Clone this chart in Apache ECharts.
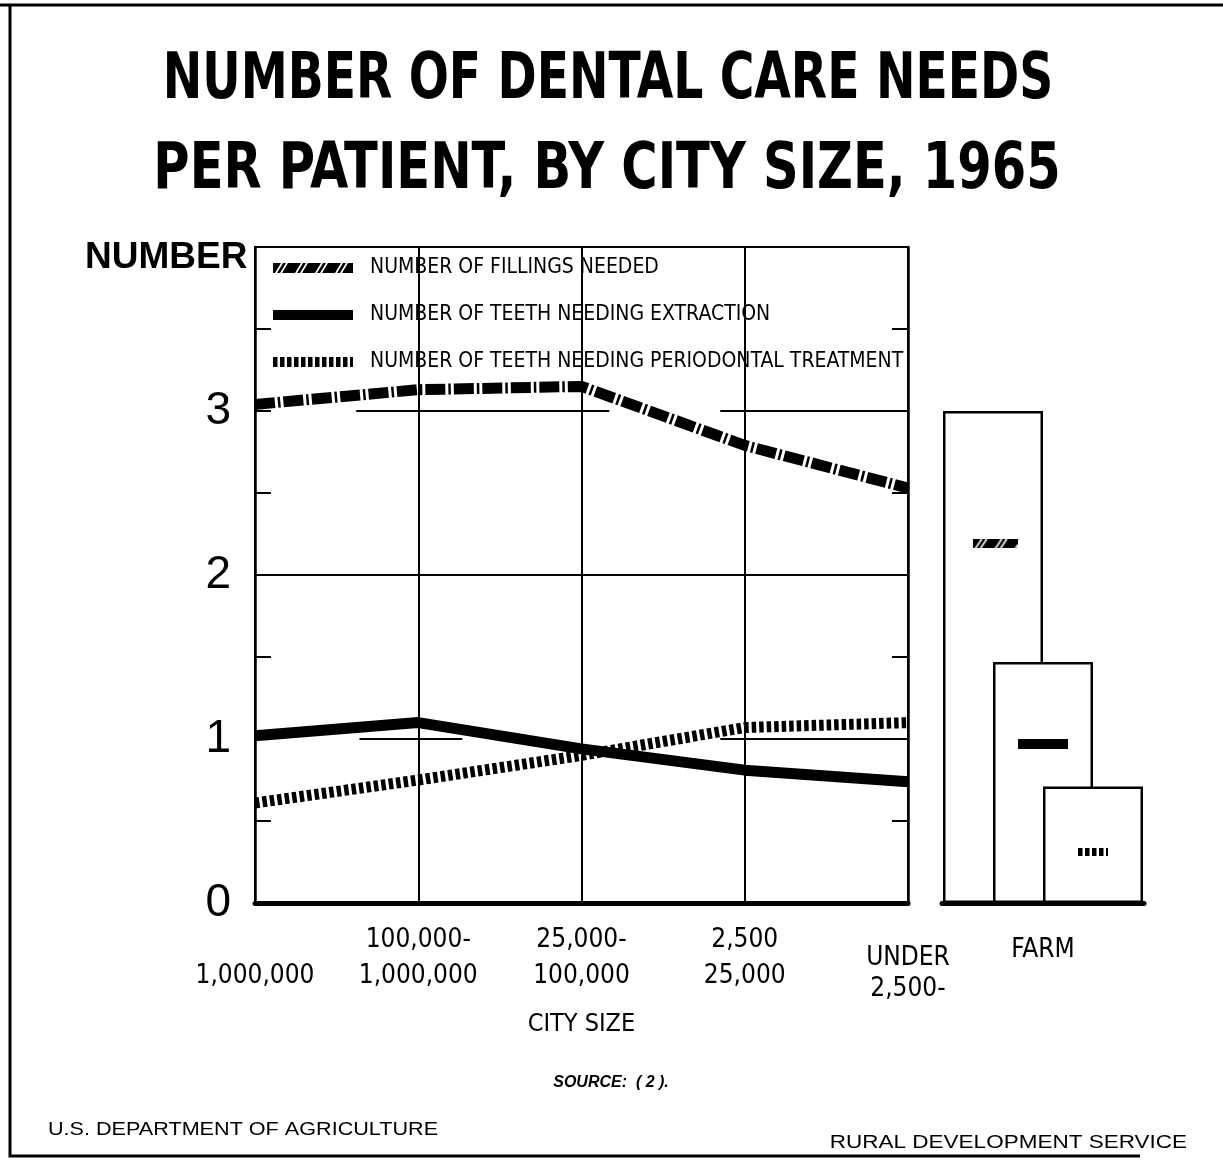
<!DOCTYPE html>
<html>
<head>
<meta charset="utf-8">
<title>Dental care needs per patient, by city size, 1965</title>
<script src="https://cdn.jsdelivr.net/npm/echarts@6/dist/echarts.min.js"></script>
<style>
  html, body { margin: 0; padding: 0; background: #fff; }
  #chart { width: 1223px; height: 1164px; }
</style>
</head>
<body>
<div id="chart"></div>
<script>
// city size groups (x axis)
const citySizes = ['\n1,000,000', '100,000-\n1,000,000', '25,000-\n100,000', '2,500\n25,000', 'UNDER\n2,500-'];
const seriesNames = [
  'NUMBER OF FILLINGS NEEDED',
  'NUMBER OF TEETH NEEDING EXTRACTION',
  'NUMBER OF TEETH NEEDING PERIODONTAL TREATMENT'
];
// values
const fillings     = [3.04, 3.13, 3.15, 2.79, 2.53];
const extraction   = [1.02, 1.10, 0.94, 0.81, 0.74];
const periodontal  = [0.61, 0.75, 0.90, 1.07, 1.10];
// farm bars (fillings, extraction, periodontal)
const farmValues   = [3.0, 1.47, 0.71];
const yTicks       = [0, 1, 2, 3];

const NARROW = "'Liberation Sans Narrow', 'DejaVu Sans Condensed', 'Noto Sans', sans-serif";
const SANS = "'Liberation Sans', 'DejaVu Sans', sans-serif";

// small pattern pictures used in the legend and inside the farm bars
function makeIcon(kind, w, h) {
  const c = document.createElement('canvas');
  c.width = w; c.height = h;
  const ctx = c.getContext('2d');
  ctx.fillStyle = '#000';
  if (kind === 'fill') {
    ctx.fillRect(0, 0, w, h);
    ctx.fillStyle = '#fff';
    for (let x = 2; x < w; x += 20) {
      for (const off of [0, 5]) {
        ctx.beginPath();
        ctx.moveTo(x + off, h);
        ctx.lineTo(x + off + 2, h);
        ctx.lineTo(x + off + 8, 0);
        ctx.lineTo(x + off + 6, 0);
        ctx.closePath();
        ctx.fill();
      }
    }
  } else if (kind === 'solid') {
    ctx.fillRect(0, 0, w, h);
  } else {
    for (let x = 0; x < w; x += 7) ctx.fillRect(x, 0, 4.5, h);
  }
  return c;
}

const kinds = ['fill', 'solid', 'dots'];
const legendIcons = kinds.map(k => 'image://' + makeIcon(k, 80, 10).toDataURL());
const barIcons = [makeIcon('fill', 45, 9), makeIcon('solid', 50, 10), makeIcon('dots', 30, 8)];

const lineStyles = [
  {color: '#000', width: 11, type: [20, 3, 2.5, 3], cap: 'butt'},
  {color: '#000', width: 11, type: 'solid', cap: 'butt'},
  {color: '#000', width: 11, type: [4.5, 3], cap: 'butt'}
];
const lineData = [fillings, extraction, periodontal];

const chart = echarts.init(document.getElementById('chart'));

const lineSeries = lineData.map((d, i) => ({
  name: seriesNames[i],
  type: 'line',
  xAxisIndex: 0,
  yAxisIndex: 0,
  data: d,
  symbol: 'none',
  lineStyle: lineStyles[i],
  z: 5 + i
}));

// partial horizontal rules of the original grid
const gridRules = {
  type: 'line',
  xAxisIndex: 1,
  yAxisIndex: 0,
  data: [],
  silent: true,
  markLine: {
    silent: true,
    symbol: 'none',
    label: {show: false},
    lineStyle: {color: '#000', width: 2, type: 'solid'},
    data: [
      [{coord: [0, 2]}, {coord: [4, 2]}],
      [{coord: [0.62, 3]}, {coord: [2.17, 3]}],
      [{coord: [2.85, 3]}, {coord: [4, 3]}],
      [{coord: [0.64, 1]}, {coord: [1.27, 1]}],
      [{coord: [2.85, 1]}, {coord: [4, 1]}]
    ]
  }
};

const barPos = [['52%', '27%'], ['50%', '34%'], ['50%', '56%']];
const farmSeries = farmValues.map((v, i) => ({
  name: seriesNames[i] + ' (farm)',
  type: 'bar',
  xAxisIndex: 2,
  yAxisIndex: 2,
  data: [v],
  barWidth: 100,
  barGap: '-50%',
  itemStyle: {color: '#fff', borderColor: '#000', borderWidth: 2.5},
  label: {
    show: true,
    position: barPos[i],
    align: 'center',
    verticalAlign: 'middle',
    formatter: '{i|}',
    rich: {i: {width: barIcons[i].width, height: barIcons[i].height, backgroundColor: {image: barIcons[i]}}}
  },
  z: 3 + i
}));

const option = {
  animation: false,
  backgroundColor: '#fff',
  legend: {
    orient: 'vertical',
    left: 268,
    top: 252,
    itemWidth: 80,
    itemHeight: 10,
    itemGap: 25,
    selectedMode: false,
    data: seriesNames.map((n, i) => ({name: n, icon: legendIcons[i]})),
    textStyle: {fontFamily: NARROW, fontSize: 21, lineHeight: 22, color: '#000', padding: [0, 0, 0, 12]}
  },
  grid: [
    {left: 255, right: 315, top: 247, bottom: 261, show: true, borderColor: '#000', borderWidth: 2, backgroundColor: 'transparent'},
    {left: 942, right: 79, top: 247, bottom: 261}
  ],
  xAxis: [
    {
      type: 'category',
      gridIndex: 0,
      data: citySizes,
      boundaryGap: false,
      axisLine: {lineStyle: {color: '#000', width: 5}},
      axisTick: {show: false},
      splitLine: {show: true, lineStyle: {color: '#000', width: 2}},
      axisLabel: {
        margin: 19,
        interval: 0,
        fontFamily: NARROW,
        fontSize: 26,
        lineHeight: 36,
        color: '#000',
        formatter: function (v, idx) {
          if (idx === 4) return '{u|UNDER}\n{w|2,500-}';
          return v;
        },
        rich: {
          u: {fontFamily: NARROW, fontSize: 26, lineHeight: 49, verticalAlign: 'bottom', color: '#000'},
          w: {fontFamily: NARROW, fontSize: 26, lineHeight: 36, color: '#000'}
        }
      },
      name: 'CITY SIZE',
      nameLocation: 'middle',
      nameGap: 107,
      nameTextStyle: {fontFamily: NARROW, fontSize: 25, color: '#000'}
    },
    {type: 'value', gridIndex: 0, min: 0, max: 4, show: false},
    {
      type: 'category',
      gridIndex: 1,
      data: ['FARM'],
      axisLine: {lineStyle: {color: '#000', width: 5}},
      axisTick: {show: false},
      axisLabel: {margin: 34, fontFamily: NARROW, fontSize: 26, color: '#000'}
    }
  ],
  yAxis: [
    {
      type: 'value',
      gridIndex: 0,
      min: 0,
      max: 4,
      interval: 0.5,
      axisLine: {show: true, lineStyle: {color: '#000', width: 2.5}},
      axisTick: {show: true, inside: true, length: 16, lineStyle: {color: '#000', width: 2}},
      splitLine: {show: false},
      axisLabel: {
        margin: 24,
        fontFamily: SANS,
        fontSize: 46,
        color: '#000',
        formatter: v => (yTicks.indexOf(v) >= 0 ? String(v) : '')
      }
    },
    {
      type: 'value',
      gridIndex: 0,
      position: 'right',
      min: 0,
      max: 4,
      interval: 0.5,
      axisLine: {show: true, lineStyle: {color: '#000', width: 2.5}},
      axisTick: {show: true, inside: true, length: 16, lineStyle: {color: '#000', width: 2}},
      splitLine: {show: false},
      axisLabel: {show: false}
    },
    {type: 'value', gridIndex: 1, min: 0, max: 4, show: false}
  ],
  graphic: [
    // title, squeezed to the narrow poster lettering
    {type: 'text', x: 608, y: 81, scaleX: 0.82, style: {text: 'NUMBER OF DENTAL CARE NEEDS', font: 'bold 64px ' + NARROW, fill: '#000', align: 'center', verticalAlign: 'middle'}},
    {type: 'text', x: 607, y: 171, scaleX: 0.86, style: {text: 'PER PATIENT, BY CITY SIZE, 1965', font: 'bold 64px ' + NARROW, fill: '#000', align: 'center', verticalAlign: 'middle'}},
    {type: 'text', x: 85, y: 258, style: {text: 'NUMBER', font: 'bold 37px ' + SANS, fill: '#000', verticalAlign: 'middle'}},
    {type: 'text', x: 611, y: 1083, style: {text: 'SOURCE:  ( 2 ).', font: 'italic bold 16px ' + SANS, fill: '#000', align: 'center', verticalAlign: 'middle'}},
    {type: 'text', x: 48, y: 1130, scaleX: 1.2, style: {text: 'U.S. DEPARTMENT OF AGRICULTURE', font: '18px ' + SANS, fill: '#000', verticalAlign: 'middle'}},
    {type: 'text', x: 1187, y: 1143, scaleX: 1.25, style: {text: 'RURAL DEVELOPMENT SERVICE', font: '18px ' + SANS, fill: '#000', align: 'right', verticalAlign: 'middle'}},
    {type: 'polyline', shape: {points: [[0, 5], [1223, 5]]}, style: {stroke: '#000', lineWidth: 3, fill: null}},
    {type: 'polyline', shape: {points: [[10, 5], [10, 1156], [1140, 1156]]}, style: {stroke: '#000', lineWidth: 3, fill: null}}
  ],
  series: [gridRules, ...lineSeries, ...farmSeries]
};

chart.setOption(option);
</script>
</body>
</html>
